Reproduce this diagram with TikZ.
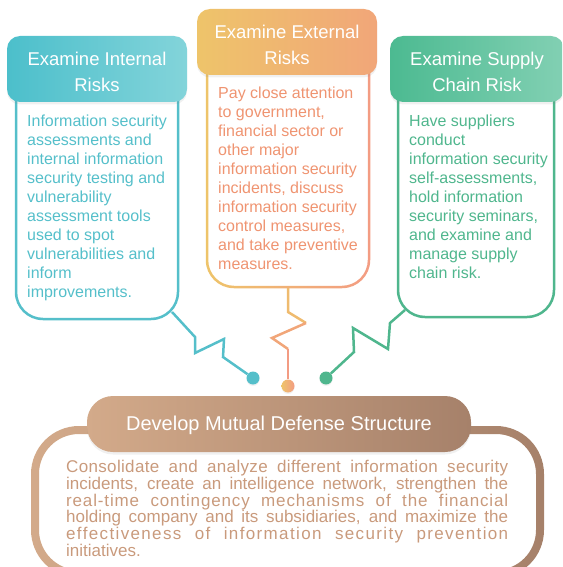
\documentclass[tikz,border=0pt]{standalone}
\usepackage{fontspec}
\usetikzlibrary{shadows}
\setmainfont{Liberation Sans}
\definecolor{tealA}{HTML}{4CBFCB}
\definecolor{tealB}{HTML}{83D4DA}
\definecolor{tealT}{HTML}{55BFCA}
\definecolor{yelA}{HTML}{EEC46A}
\definecolor{oraB}{HTML}{F1A679}
\definecolor{oraT}{HTML}{EF9471}
\definecolor{oraR}{HTML}{F39C83}
\definecolor{grnA}{HTML}{4CBA91}
\definecolor{grnB}{HTML}{82D0B3}
\definecolor{grnT}{HTML}{4FB68D}
\definecolor{brnA}{HTML}{D3AA8A}
\definecolor{brnB}{HTML}{A6816A}
\definecolor{brnT}{HTML}{C99A7C}
\begin{document}
\begin{tikzpicture}[x=1pt,y=-1pt,
  hdr/.style={rounded corners=13pt, inner sep=0pt, drop shadow={opacity=0.12, shadow xshift=0pt, shadow yshift=-2.5pt}},
  hdrtext/.style={inner sep=0pt, text=white, align=center, font=\fontsize{18.5}{26}\selectfont},
  bodytext/.style={inner sep=0pt, align=left, anchor=north west, font=\fontsize{16}{19}\selectfont},
  conn/.style={line width=2.5pt},
  dot/.style={circle, inner sep=0pt, minimum size=13pt, drop shadow={opacity=0.1, shadow xshift=0pt, shadow yshift=-1.5pt}}]
\useasboundingbox (0,0) rectangle (562,567);
\begin{scope}
\clip (0,0) rectangle (562,567);
% body rings
\fill[tealT, even odd rule, rounded corners=28.25pt] (14.75,90) -- (14.75,320.25) -- (179.25,320.25) -- (179.25,90)
  [rounded corners=25.75pt] (17.25,90) -- (17.25,317.75) -- (176.75,317.75) -- (176.75,90);
\shade[left color=yelA, right color=oraR, even odd rule, rounded corners=28.25pt] (205.75,60) -- (205.75,288.25) -- (370.25,288.25) -- (370.25,60)
  [rounded corners=25.75pt] (208.25,60) -- (208.25,285.75) -- (367.75,285.75) -- (367.75,60);
\fill[grnT, even odd rule, rounded corners=28.25pt] (396.75,90) -- (396.75,318.25) -- (555.25,318.25) -- (555.25,90)
  [rounded corners=25.75pt] (399.25,90) -- (399.25,315.75) -- (552.75,315.75) -- (552.75,90);
\shade[left color=brnA, right color=brnB, even odd rule] [rounded corners=48pt] (31,426) rectangle (544,578)
  [rounded corners=40pt] (39,434) rectangle (536,570);
% headers
\node[hdr, minimum width=180pt, minimum height=66pt, left color=tealA, right color=tealB] (hL) at (97,69) {};
\node[hdr, minimum width=180pt, minimum height=66pt, left color=yelA, right color=oraB] (hM) at (287,42) {};
\node[hdr, minimum width=174pt, minimum height=66pt, left color=grnA, right color=grnB] (hR) at (477,69) {};
\node[hdr, rounded corners=26pt, minimum width=384pt, minimum height=56pt, left color=brnA, right color=brnB] (hB) at (279,424) {};
\node[hdrtext] (hLt) at ([yshift=-3pt]hL.center) {Examine Internal\\Risks};
\node[hdrtext] (hMt) at ([yshift=-3pt]hM.center) {Examine External\\Risks};
\node[hdrtext] (hRt) at ([yshift=-3pt]hR.center) {Examine Supply\\Chain Risk};
\node[hdrtext, font=\fontsize{20}{24}\selectfont] (hBt) at ([yshift=-1pt]hB.center) {Develop Mutual Defense Structure};
% body texts
\node[bodytext, text=tealT] (tL) at (27,115) {Information security\\assessments and\\internal information\\security testing and\\vulnerability\\assessment tools\\used to spot\\vulnerabilities and\\inform\\improvements.};
\node[bodytext, text=oraT] (tM) at (218,87) {Pay close attention\\to government,\\financial sector or\\other major\\information security\\incidents, discuss\\information security\\control measures,\\and take preventive\\measures.};
\node[bodytext, text=grnT] (tR) at (409,115) {Have suppliers\\conduct\\information security\\self-assessments,\\hold information\\security seminars,\\and examine and\\manage supply\\chain risk.};
\node[inner sep=0pt, anchor=north west, align=left, text=brnT, font=\fontsize{17}{16.8}\selectfont] (tB) at (66,460)
 {{\addfontfeature{LetterSpace=2}\makebox[442pt][s]{Consolidate and analyze different information security}}\\
  \makebox[442pt][s]{incidents, create an intelligence network, strengthen the}\\
  {\addfontfeature{LetterSpace=5}\makebox[442pt][s]{real-time contingency mechanisms of the financial}}\\
  \makebox[442pt][s]{holding company and its subsidiaries, and maximize the}\\
  {\addfontfeature{LetterSpace=8}\makebox[442pt][s]{effectiveness of information security prevention}}\\
  initiatives.};
% dots
\node[dot, fill=tealT] (dL) at (253,378) {};
\node[dot, left color=yelA, right color=oraR] (dM) at (288,386) {};
\node[dot, fill=grnT] (dR) at (326,378) {};
% connectors
\coordinate (sL) at (172,312);
\coordinate (sM) at (288,288);
\coordinate (sR) at (405,310);
\draw[conn, tealT] (sL) -- (195,337) -- (195,353) -- (224,339) -- (223,357) -- (dL);
\draw[conn, color=yelA!70!oraB] (sM) -- (288,312) -- (306,323);
\draw[conn, color=oraB] (306,323) -- (272,338) -- (288,349);
\draw[conn, color=oraR] (288,349) -- (dM);
\draw[conn, grnT] (sR) -- (390,323) -- (388,349) -- (353,328) -- (354,352) -- (dR);
\end{scope}
\end{tikzpicture}
\end{document}
